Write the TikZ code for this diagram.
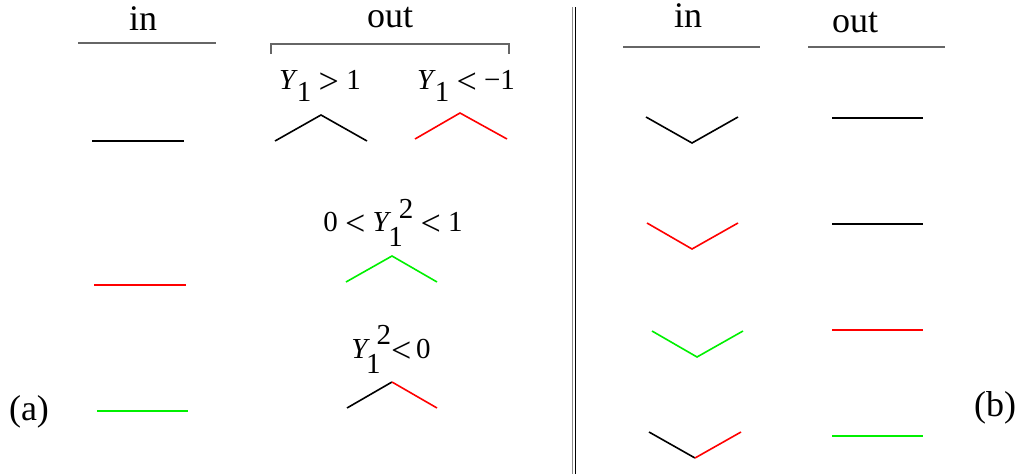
\documentclass[tikz,border=0pt]{standalone}
\usepackage{fontspec}
\setmainfont{Liberation Serif}
\newcommand{\myrel}[1]{{\fontsize{36}{40}\selectfont\raisebox{-4pt}{#1}}}
\begin{document}
\begin{tikzpicture}[x=1pt,y=-1pt,
  big/.style={font=\fontsize{36}{40}\selectfont, inner sep=0pt, anchor=base},
  lab/.style={font=\fontsize{29}{32}\selectfont, inner sep=0pt, anchor=base},
  rule/.style={draw=black!60, line width=1.2pt},
  seg/.style={line width=1.6pt},
  red/.style={draw={rgb,255:red,255;green,0;blue,0}},
  grn/.style={draw={rgb,255:red,0;green,240;blue,0}}]
\useasboundingbox (0,0) rectangle (1021,474);
% ---- panel (a)
\node[big] (ina) at (143,30) {in};
\draw[rule] (78,43) -- (216,43);
\node[big] (outa) at (390,27) {out};
\draw[rule] (271,54) -- (271,44) -- (509,44) -- (509,54);
\node[lab] (l1) at (320,89) {\textit{Y}\kern-1pt\raisebox{-12pt}{1} \myrel{>} 1};
\node[lab] (l2) at (466,89) {\textit{Y}\kern-1pt\raisebox{-12pt}{1} \myrel{<} −1};
\draw[seg] (275,141) -- (321,115) -- (367,141);
\draw[seg,red] (415,139) -- (460,113) -- (507,139);
\draw[seg] (92,141) -- (184,141);
\draw[seg,red] (94,285) -- (186,285);
\draw[seg,grn] (97,411) -- (188,411);
\node[lab] (l3) at (393,231) {0 \myrel{<} \textit{Y}\kern-3pt\raisebox{-15pt}{1}\kern-4pt\raisebox{13pt}{2} \myrel{<} 1};
\draw[seg,grn] (346,282) -- (392,256) -- (437,282);
\node[lab] (l4) at (391,358) {\textit{Y}\kern-4pt\raisebox{-15pt}{1}\kern-4pt\raisebox{14pt}{2}\myrel{<}\,0};
\coordinate (p4) at (392,382);
\draw[seg] (347,408) -- (p4);
\draw[seg,red] (p4) -- (437,408);
\node[big] (a) at (29,420) {(a)};
% ---- separator
\draw[line width=1.3pt, black!45] (572.3,7) -- (572.3,474);
\draw[line width=1.5pt] (575.7,7) -- (575.7,474);
% ---- panel (b)
\node[big] (inb) at (688,27) {in};
\draw[rule] (623,47) -- (760,47);
\node[big] (outb) at (855,32) {out};
\draw[rule] (808,47) -- (945,47);
\draw[seg] (646,117) -- (692,143) -- (738,117);
\draw[seg] (832,118) -- (923,118);
\draw[seg,red] (647,223) -- (692,249) -- (738,223);
\draw[seg] (832,224) -- (923,224);
\draw[seg,grn] (652,331) -- (697,357) -- (743,331);
\draw[seg,red] (832,330) -- (923,330);
\coordinate (q4) at (695,458);
\draw[seg] (649,432) -- (q4);
\draw[seg,red] (q4) -- (741,432);
\draw[seg,grn] (832,436) -- (923,436);
\node[big] (b) at (995,416) {(b)};
\end{tikzpicture}
\end{document}
